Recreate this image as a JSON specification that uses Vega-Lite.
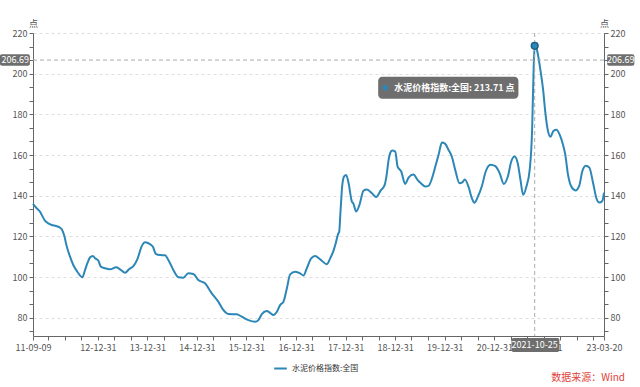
{
  "$schema": "https://vega.github.io/schema/vega-lite/v6.json",
  "width": 571,
  "height": 303,
  "autosize": "none",
  "padding": {"left": 33, "top": 33, "right": 36, "bottom": 51},
  "background": "#ffffff",
  "config": {
    "font": "Noto Sans CJK SC",
    "view": {"stroke": null}
  },
  "title": {
    "text": "数据来源：Wind",
    "orient": "bottom",
    "anchor": "end",
    "frame": "group",
    "dx": 21,
    "offset": 0,
    "color": "#e0423a",
    "fontSize": 10,
    "fontWeight": "normal"
  },
  "data": {
    "values": [
      {"d": "2011-09-09", "v": 136.0},
      {"d": "2011-10-06", "v": 133.8},
      {"d": "2011-10-30", "v": 132.2},
      {"d": "2011-11-19", "v": 129.7},
      {"d": "2011-12-06", "v": 127.7},
      {"d": "2011-12-30", "v": 126.4},
      {"d": "2012-01-25", "v": 125.6},
      {"d": "2012-02-25", "v": 125.1},
      {"d": "2012-03-21", "v": 124.5},
      {"d": "2012-04-08", "v": 123.5},
      {"d": "2012-04-25", "v": 120.7},
      {"d": "2012-05-15", "v": 115.0},
      {"d": "2012-06-08", "v": 110.0},
      {"d": "2012-07-02", "v": 105.9},
      {"d": "2012-08-01", "v": 102.6},
      {"d": "2012-09-07", "v": 99.9},
      {"d": "2012-09-27", "v": 103.5},
      {"d": "2012-10-14", "v": 106.8},
      {"d": "2012-11-03", "v": 109.7},
      {"d": "2012-11-23", "v": 110.4},
      {"d": "2012-12-10", "v": 109.2},
      {"d": "2013-01-03", "v": 108.0},
      {"d": "2013-01-21", "v": 105.1},
      {"d": "2013-02-21", "v": 104.3},
      {"d": "2013-03-30", "v": 103.8},
      {"d": "2013-05-14", "v": 104.8},
      {"d": "2013-06-12", "v": 103.8},
      {"d": "2013-07-19", "v": 102.1},
      {"d": "2013-08-17", "v": 103.8},
      {"d": "2013-09-18", "v": 105.4},
      {"d": "2013-10-17", "v": 108.7},
      {"d": "2013-11-19", "v": 115.2},
      {"d": "2013-12-13", "v": 117.1},
      {"d": "2014-01-07", "v": 116.6},
      {"d": "2014-02-08", "v": 115.0},
      {"d": "2014-03-04", "v": 111.3},
      {"d": "2014-04-03", "v": 110.8},
      {"d": "2014-05-10", "v": 110.7},
      {"d": "2014-06-03", "v": 108.4},
      {"d": "2014-07-10", "v": 103.5},
      {"d": "2014-08-16", "v": 99.9},
      {"d": "2014-09-21", "v": 99.7},
      {"d": "2014-10-28", "v": 101.8},
      {"d": "2014-12-04", "v": 101.5},
      {"d": "2015-01-10", "v": 98.5},
      {"d": "2015-02-28", "v": 96.9},
      {"d": "2015-04-19", "v": 92.0},
      {"d": "2015-06-06", "v": 87.9},
      {"d": "2015-07-13", "v": 83.8},
      {"d": "2015-08-19", "v": 81.8},
      {"d": "2015-10-20", "v": 81.7},
      {"d": "2015-11-26", "v": 80.5},
      {"d": "2016-01-14", "v": 78.8},
      {"d": "2016-03-04", "v": 78.0},
      {"d": "2016-03-28", "v": 78.8},
      {"d": "2016-04-22", "v": 81.8},
      {"d": "2016-05-29", "v": 83.3},
      {"d": "2016-06-22", "v": 82.4},
      {"d": "2016-07-17", "v": 81.3},
      {"d": "2016-08-11", "v": 82.9},
      {"d": "2016-09-04", "v": 86.2},
      {"d": "2016-09-29", "v": 87.9},
      {"d": "2016-10-24", "v": 94.5},
      {"d": "2016-11-17", "v": 101.3},
      {"d": "2016-12-24", "v": 102.6},
      {"d": "2017-01-30", "v": 101.8},
      {"d": "2017-02-23", "v": 100.7},
      {"d": "2017-03-20", "v": 104.3},
      {"d": "2017-04-21", "v": 109.2},
      {"d": "2017-05-20", "v": 110.3},
      {"d": "2017-06-26", "v": 108.7},
      {"d": "2017-08-15", "v": 106.3},
      {"d": "2017-09-08", "v": 109.2},
      {"d": "2017-10-03", "v": 113.0},
      {"d": "2017-10-20", "v": 116.9},
      {"d": "2017-11-08", "v": 121.5},
      {"d": "2017-11-13", "v": 122.0},
      {"d": "2017-11-24", "v": 133.0},
      {"d": "2017-12-06", "v": 145.0},
      {"d": "2017-12-20", "v": 149.5},
      {"d": "2018-01-04", "v": 150.2},
      {"d": "2018-01-22", "v": 146.1},
      {"d": "2018-02-15", "v": 137.1},
      {"d": "2018-02-25", "v": 136.3},
      {"d": "2018-03-19", "v": 132.2},
      {"d": "2018-04-12", "v": 135.5},
      {"d": "2018-05-12", "v": 142.5},
      {"d": "2018-06-06", "v": 143.0},
      {"d": "2018-07-13", "v": 141.2},
      {"d": "2018-08-13", "v": 139.3},
      {"d": "2018-09-15", "v": 142.5},
      {"d": "2018-10-15", "v": 145.3},
      {"d": "2018-10-31", "v": 151.0},
      {"d": "2018-11-12", "v": 157.2},
      {"d": "2018-11-25", "v": 161.0},
      {"d": "2018-12-09", "v": 162.2},
      {"d": "2019-01-01", "v": 161.7},
      {"d": "2019-01-18", "v": 154.3},
      {"d": "2019-02-14", "v": 151.9},
      {"d": "2019-03-15", "v": 145.8},
      {"d": "2019-04-10", "v": 149.0},
      {"d": "2019-05-15", "v": 150.4},
      {"d": "2019-06-14", "v": 147.8},
      {"d": "2019-07-11", "v": 146.0},
      {"d": "2019-08-10", "v": 144.5},
      {"d": "2019-09-03", "v": 144.8},
      {"d": "2019-10-10", "v": 151.0},
      {"d": "2019-10-30", "v": 156.0},
      {"d": "2019-11-16", "v": 160.0},
      {"d": "2019-12-11", "v": 166.1},
      {"d": "2020-01-04", "v": 165.5},
      {"d": "2020-01-29", "v": 162.5},
      {"d": "2020-02-23", "v": 159.0},
      {"d": "2020-03-18", "v": 152.7},
      {"d": "2020-04-19", "v": 146.1},
      {"d": "2020-05-09", "v": 146.5},
      {"d": "2020-05-28", "v": 148.0},
      {"d": "2020-06-25", "v": 144.2},
      {"d": "2020-07-20", "v": 138.5},
      {"d": "2020-08-06", "v": 136.5},
      {"d": "2020-09-01", "v": 139.5},
      {"d": "2020-10-02", "v": 145.0},
      {"d": "2020-10-27", "v": 151.5},
      {"d": "2020-12-03", "v": 155.2},
      {"d": "2021-01-08", "v": 154.5},
      {"d": "2021-02-09", "v": 151.0},
      {"d": "2021-03-11", "v": 145.8},
      {"d": "2021-04-10", "v": 149.4},
      {"d": "2021-05-05", "v": 156.8},
      {"d": "2021-05-29", "v": 159.3},
      {"d": "2021-06-22", "v": 156.0},
      {"d": "2021-07-12", "v": 147.8},
      {"d": "2021-08-01", "v": 140.4},
      {"d": "2021-08-25", "v": 144.5},
      {"d": "2021-09-18", "v": 152.7},
      {"d": "2021-10-06", "v": 172.4},
      {"d": "2021-10-17", "v": 201.9},
      {"d": "2021-10-25", "v": 213.71},
      {"d": "2021-11-08", "v": 212.3},
      {"d": "2021-12-06", "v": 201.9},
      {"d": "2021-12-26", "v": 192.1},
      {"d": "2022-01-12", "v": 180.6},
      {"d": "2022-01-29", "v": 172.4},
      {"d": "2022-02-18", "v": 169.0},
      {"d": "2022-03-12", "v": 171.8},
      {"d": "2022-04-03", "v": 172.4},
      {"d": "2022-04-27", "v": 170.0},
      {"d": "2022-05-22", "v": 165.0},
      {"d": "2022-06-08", "v": 160.0},
      {"d": "2022-06-26", "v": 151.0},
      {"d": "2022-07-22", "v": 144.5},
      {"d": "2022-08-21", "v": 142.6},
      {"d": "2022-09-19", "v": 145.0},
      {"d": "2022-10-11", "v": 152.0},
      {"d": "2022-11-06", "v": 154.7},
      {"d": "2022-12-02", "v": 153.8},
      {"d": "2022-12-30", "v": 146.1},
      {"d": "2023-01-24", "v": 138.5},
      {"d": "2023-02-14", "v": 136.6},
      {"d": "2023-03-08", "v": 137.5},
      {"d": "2023-03-20", "v": 141.5}
    ]
  },
  "resolve": {"axis": {"x": "independent", "y": "independent"}},
  "layer": [
    {
      "mark": {"type": "line", "strokeWidth": 2, "interpolate": "monotone"},
      "encoding": {
        "x": {
          "field": "d",
          "type": "temporal",
          "scale": {
            "type": "utc",
            "domain": [
              {"year": 2011, "month": 9, "date": 9, "utc": true},
              {"year": 2023, "month": 3, "date": 20, "utc": true}
            ]
          },
          "axis": {
            "orient": "bottom",
            "title": null,
            "format": "%y-%m-%d",
            "values": [
              {"year": 2011, "month": 9, "date": 9, "utc": true},
              {"year": 2012, "month": 12, "date": 31, "utc": true},
              {"year": 2013, "month": 12, "date": 31, "utc": true},
              {"year": 2014, "month": 12, "date": 31, "utc": true},
              {"year": 2015, "month": 12, "date": 31, "utc": true},
              {"year": 2016, "month": 12, "date": 31, "utc": true},
              {"year": 2017, "month": 12, "date": 31, "utc": true},
              {"year": 2018, "month": 12, "date": 31, "utc": true},
              {"year": 2019, "month": 12, "date": 31, "utc": true},
              {"year": 2020, "month": 12, "date": 31, "utc": true},
              {"year": 2021, "month": 12, "date": 31, "utc": true},
              {"year": 2023, "month": 3, "date": 20, "utc": true}
            ],
            "labelOverlap": false,
            "labelFlush": false,
            "grid": false,
            "domainColor": "#666666",
            "tickColor": "#666666",
            "tickSize": 4,
            "labelColor": "#555555",
            "labelFontSize": 9,
            "labelPadding": 3
          }
        },
        "y": {
          "field": "v",
          "type": "quantitative",
          "scale": {"domain": [71, 220], "nice": false, "zero": false},
          "axis": {
            "orient": "left",
            "title": "点",
            "titleAngle": 0,
            "titleX": 0,
            "titleY": -5,
            "titleAlign": "center",
            "titleBaseline": "bottom",
            "titleFontWeight": "normal",
            "titleFontSize": 9,
            "titleColor": "#555555",
            "values": [73.333, 80, 86.667, 93.333, 100, 106.667, 113.333, 120, 126.667, 133.333, 140, 146.667, 153.333, 160, 166.667, 173.333, 180, 186.667, 193.333, 200, 206.667, 213.333, 220],
            "labelExpr": "abs(datum.value - round(datum.value / 20) * 20) < 0.01 ? format(datum.value, 'd') : ''",
            "grid": true,
            "gridColor": "#dddddd",
            "gridDash": [3, 3],
            "gridOpacity": {"condition": {"test": "abs(datum.value - round(datum.value / 20) * 20) < 0.01", "value": 1}, "value": 0},
            "domainColor": "#666666",
            "tickColor": "#666666",
            "tickSize": 4,
            "labelColor": "#555555",
            "labelFontSize": 9,
            "labelPadding": 2
          }
        },
        "color": {
          "datum": "水泥价格指数:全国",
          "scale": {"range": ["#2c86b6"]},
          "legend": {
            "title": null,
            "orient": "none",
            "legendX": 240,
            "legendY": 328,
            "symbolType": "stroke",
            "symbolStrokeWidth": 2,
            "symbolSize": 160,
            "labelFontSize": 8,
            "labelColor": "#333333",
            "labelOffset": 4
          }
        }
      }
    },
    {
      "data": {"values": [{}]},
      "mark": {"type": "rule", "strokeDash": [4, 3], "color": "#aaaaaa", "strokeWidth": 1},
      "encoding": {
        "y": {
          "datum": 206.69,
          "type": "quantitative",
          "axis": {
            "orient": "right",
            "title": "点",
            "titleAngle": 0,
            "titleX": 0,
            "titleY": -5,
            "titleAlign": "center",
            "titleBaseline": "bottom",
            "titleFontWeight": "normal",
            "titleFontSize": 9,
            "titleColor": "#555555",
            "values": [73.333, 80, 86.667, 93.333, 100, 106.667, 113.333, 120, 126.667, 133.333, 140, 146.667, 153.333, 160, 166.667, 173.333, 180, 186.667, 193.333, 200, 206.667, 213.333, 220],
            "labelExpr": "abs(datum.value - round(datum.value / 20) * 20) < 0.01 ? format(datum.value, 'd') : ''",
            "grid": false,
            "domainColor": "#666666",
            "tickColor": "#666666",
            "tickSize": 4,
            "labelColor": "#555555",
            "labelFontSize": 9,
            "labelPadding": 2
          }
        }
      }
    },
    {
      "data": {"values": [{}]},
      "mark": {"type": "rule", "strokeDash": [4, 3], "color": "#aaaaaa", "strokeWidth": 1},
      "encoding": {
        "x": {
          "datum": {"year": 2021, "month": 10, "date": 25, "utc": true},
          "type": "temporal",
          "axis": {
            "orient": "bottom",
            "title": null,
            "labels": false,
            "domain": false,
            "grid": false,
            "tickColor": "#666666",
            "tickSize": 4,
            "values": [
              {"year": 2011, "month": 12, "date": 31, "utc": true},
              {"year": 2012, "month": 4, "date": 30, "utc": true},
              {"year": 2012, "month": 8, "date": 31, "utc": true},
              {"year": 2013, "month": 4, "date": 30, "utc": true},
              {"year": 2013, "month": 8, "date": 31, "utc": true},
              {"year": 2014, "month": 4, "date": 30, "utc": true},
              {"year": 2014, "month": 8, "date": 31, "utc": true},
              {"year": 2015, "month": 4, "date": 30, "utc": true},
              {"year": 2015, "month": 8, "date": 31, "utc": true},
              {"year": 2016, "month": 4, "date": 30, "utc": true},
              {"year": 2016, "month": 8, "date": 31, "utc": true},
              {"year": 2017, "month": 4, "date": 30, "utc": true},
              {"year": 2017, "month": 8, "date": 31, "utc": true},
              {"year": 2018, "month": 4, "date": 30, "utc": true},
              {"year": 2018, "month": 8, "date": 31, "utc": true},
              {"year": 2019, "month": 4, "date": 30, "utc": true},
              {"year": 2019, "month": 8, "date": 31, "utc": true},
              {"year": 2020, "month": 4, "date": 30, "utc": true},
              {"year": 2020, "month": 8, "date": 31, "utc": true},
              {"year": 2021, "month": 4, "date": 30, "utc": true},
              {"year": 2021, "month": 8, "date": 31, "utc": true},
              {"year": 2022, "month": 4, "date": 30, "utc": true},
              {"year": 2022, "month": 8, "date": 31, "utc": true},
              {"year": 2022, "month": 12, "date": 31, "utc": true}
            ]
          }
        }
      }
    },
    {
      "data": {"values": [{}]},
      "mark": {"type": "point", "filled": true, "size": 45, "color": "#2c86b6", "stroke": "#1d5f85", "strokeWidth": 1.5, "opacity": 1},
      "encoding": {
        "x": {"datum": {"year": 2021, "month": 10, "date": 25, "utc": true}, "type": "temporal", "axis": null},
        "y": {"datum": 213.71, "type": "quantitative", "axis": null}
      }
    },
    {
      "data": {"values": [{}]},
      "mark": {"type": "rect", "color": "#6e6e6e", "cornerRadius": 4},
      "encoding": {
        "x": {"datum": {"year": 2018, "month": 8, "date": 28, "utc": true}, "type": "temporal", "axis": null},
        "x2": {"datum": {"year": 2021, "month": 6, "date": 27, "utc": true}},
        "y": {"datum": 198.5, "type": "quantitative", "axis": null},
        "y2": {"datum": 187.7}
      }
    },
    {
      "data": {"values": [{}]},
      "mark": {"type": "point", "filled": true, "size": 30, "color": "#2c86b6", "opacity": 1},
      "encoding": {
        "x": {"datum": {"year": 2018, "month": 10, "date": 19, "utc": true}, "type": "temporal", "axis": null},
        "y": {"datum": 193.1, "type": "quantitative", "axis": null}
      }
    },
    {
      "data": {"values": [{}]},
      "mark": {"type": "text", "align": "left", "baseline": "middle", "color": "#ffffff", "fontSize": 9, "fontWeight": "bold", "text": "水泥价格指数:全国: 213.71  点"},
      "encoding": {
        "x": {"datum": {"year": 2018, "month": 12, "date": 24, "utc": true}, "type": "temporal", "axis": null},
        "y": {"datum": 193.1, "type": "quantitative", "axis": null}
      }
    },
    {
      "data": {"values": [{}]},
      "mark": {"type": "rect", "color": "#6e6e6e", "cornerRadius": 2},
      "encoding": {
        "x": {"datum": {"year": 2011, "month": 1, "date": 8, "utc": true}, "type": "temporal", "axis": null},
        "x2": {"datum": {"year": 2011, "month": 8, "date": 17, "utc": true}},
        "y": {"datum": 209.5, "type": "quantitative", "axis": null},
        "y2": {"datum": 203.9}
      }
    },
    {
      "data": {"values": [{}]},
      "mark": {"type": "text", "align": "center", "baseline": "middle", "color": "#ffffff", "fontSize": 9, "text": "206.69"},
      "encoding": {
        "x": {"datum": {"year": 2011, "month": 5, "date": 1, "utc": true}, "type": "temporal", "axis": null},
        "y": {"datum": 206.69, "type": "quantitative", "axis": null}
      }
    },
    {
      "data": {"values": [{}]},
      "mark": {"type": "rect", "color": "#6e6e6e", "cornerRadius": 2},
      "encoding": {
        "x": {"datum": {"year": 2023, "month": 4, "date": 12, "utc": true}, "type": "temporal", "axis": null},
        "x2": {"datum": {"year": 2023, "month": 10, "date": 30, "utc": true}},
        "y": {"datum": 209.5, "type": "quantitative", "axis": null},
        "y2": {"datum": 203.9}
      }
    },
    {
      "data": {"values": [{}]},
      "mark": {"type": "text", "align": "center", "baseline": "middle", "color": "#ffffff", "fontSize": 9, "text": "206.69"},
      "encoding": {
        "x": {"datum": {"year": 2023, "month": 7, "date": 21, "utc": true}, "type": "temporal", "axis": null},
        "y": {"datum": 206.69, "type": "quantitative", "axis": null}
      }
    },
    {
      "data": {"values": [{}]},
      "mark": {"type": "rect", "color": "#6e6e6e", "cornerRadius": 2},
      "encoding": {
        "x": {"datum": {"year": 2021, "month": 5, "date": 7, "utc": true}, "type": "temporal", "axis": null},
        "x2": {"datum": {"year": 2022, "month": 4, "date": 25, "utc": true}},
        "y": {"datum": 70.0, "type": "quantitative", "axis": null},
        "y2": {"datum": 63.1}
      }
    },
    {
      "data": {"values": [{}]},
      "mark": {"type": "text", "align": "center", "baseline": "middle", "color": "#ffffff", "fontSize": 9, "text": "2021-10-25"},
      "encoding": {
        "x": {"datum": {"year": 2021, "month": 10, "date": 25, "utc": true}, "type": "temporal", "axis": null},
        "y": {"datum": 66.5, "type": "quantitative", "axis": null}
      }
    }
  ]
}
